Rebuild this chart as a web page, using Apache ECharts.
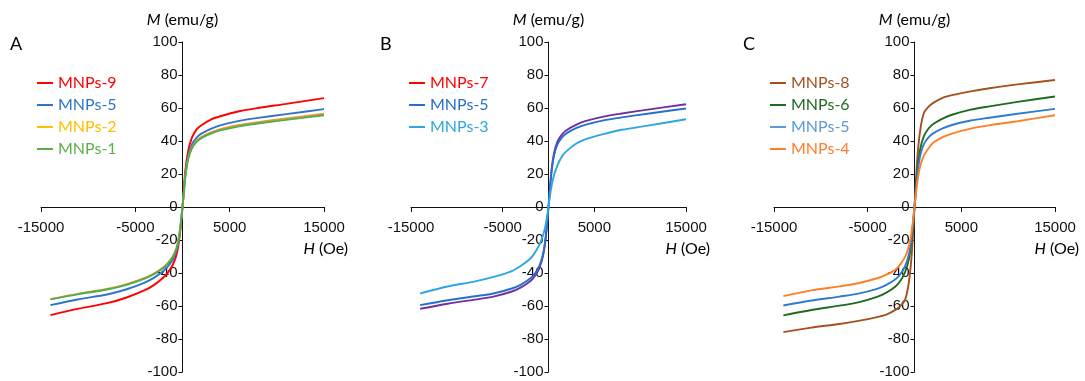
<!DOCTYPE html>
<html>
<head>
<meta charset="utf-8">
<script src="https://cdn.jsdelivr.net/npm/echarts@6/dist/echarts.min.js"></script>
<style>
  html, body { margin: 0; background: #fff; }
  #chart { width: 1085px; height: 381px; }
</style>
</head>
<body>
<div id="chart"></div>
<script>
// applied field H (Oe), shared by every curve
const fieldOe = [-14000, -11000, -8000, -6000, -4000, -3000, -2000, -1500, -1000, -600, -300, 0,
  300, 600, 1000, 1500, 2000, 3000, 4000, 6000, 8000, 11000, 15000];

// panel A, M (emu/g)
const mnps9 = [-65.5, -61.6, -58.3, -55, -50.4, -47.2, -42.6, -39.3, -34.7, -28.2, -17.7, 0, 22, 34, 42, 47, 49.5, 53, 55, 58, 60, 62.5, 66];
const mnps5A = [-59.5, -55.9, -53, -50, -45.8, -42.8, -38.7, -35.7, -31.5, -25.6, -16.1, 0, 19.6, 30.8, 38, 42.1, 44.5, 47.4, 49.5, 52.2, 54, 56.3, 59.3];
const mnps2 = [-55.8, -52.5, -49.7, -46.9, -43, -40.2, -36.3, -33.5, -29.6, -24, -15.1, 0, 18.6, 29.4, 36.2, 40.1, 42.4, 45.2, 47.2, 49.7, 51.4, 53.7, 56.5];
const mnps1 = [-56, -52.8, -50, -47.3, -43.4, -40.6, -36.8, -34, -30, -24.5, -15.5, 0, 18.3, 28.9, 35.6, 39.5, 41.7, 44.5, 46.4, 48.9, 50.6, 52.8, 55.6];

// panel B
const mnps7 = [-61.7, -58.6, -56.1, -54.3, -51.2, -48.7, -45, -42, -37, -29.6, -18.5, 0, 20.6, 32.4, 39.9, 44.2, 46.7, 49.8, 52, 54.8, 56.7, 59.2, 62.3];
const mnps5B = [-59.5, -56.5, -54.1, -52.4, -49.4, -47, -43.4, -40.5, -35.7, -28.6, -17.9, 0, 19.7, 31, 38.2, 42.4, 44.8, 47.8, 49.8, 52.5, 54.3, 56.7, 59.7];
const mnps3 = [-52.4, -48.2, -45.1, -42.4, -38.8, -35.6, -31.4, -27.8, -23, -17.3, -10.5, 0, 11.7, 19.2, 25.5, 30.9, 34, 38.3, 41, 44.2, 46.8, 49.5, 53.2];

// panel C
const mnps8 = [-75.8, -73.1, -70.9, -69, -66.7, -65.2, -62.2, -59.9, -56.1, -45.5, -28.8, 0, 29.3, 46.2, 57, 60.8, 63.1, 66.2, 67.8, 70.1, 72, 74.3, 77];
const mnps6 = [-65.7, -62.4, -59.8, -57.8, -54.5, -51.9, -48, -44.7, -39.4, -31.5, -19.7, 0, 22.1, 34.8, 42.9, 47.6, 50.3, 53.6, 55.9, 59, 61, 63.7, 67];
const mnps5C = [-59.7, -56.7, -54.3, -52.5, -49.6, -47.2, -43.6, -40.6, -35.8, -28.7, -17.9, 0, 19.6, 30.9, 38.1, 42.2, 44.6, 47.6, 49.7, 52.4, 54.1, 56.5, 59.5];
const mnps4 = [-54, -50.5, -48.1, -46.2, -43.2, -41, -37.8, -34.6, -30.2, -23.8, -14.6, 0, 15, 24.5, 31.1, 35.6, 38.9, 42.3, 44.5, 47.5, 49.5, 52, 55.6];

const xTicks = { min: -15000, max: 15000, step: 10000 };
const yTicks = { min: -100, max: 100, step: 20 };

// [label, values, line colour, legend colour]
const panels = [
  {
    letter: 'A', left: 41, width: 283, legendLeft: 37,
    curves: [
      ['MNPs-9', mnps9, '#FF0000', '#FF0000'],
      ['MNPs-5', mnps5A, '#2E75C9', '#2E75C9'],
      ['MNPs-2', mnps2, '#F0922E', '#FFC000'],
      ['MNPs-1', mnps1, '#4CAF50', '#5BB04A'],
    ],
  },
  {
    letter: 'B', left: 411, width: 275, legendLeft: 409,
    curves: [
      ['MNPs-7', mnps7, '#7030A0', '#FF0000'],
      ['MNPs-5', mnps5B, '#2670CC', '#2670CC'],
      ['MNPs-3', mnps3, '#2EA6E0', '#2EA6E0'],
    ],
  },
  {
    letter: 'C', left: 774, width: 281, legendLeft: 770,
    curves: [
      ['MNPs-8', mnps8, '#A5501E', '#A5501E'],
      ['MNPs-6', mnps6, '#1F6B21', '#1F6B21'],
      ['MNPs-5', mnps5C, '#2E7BD0', '#5B9BD5'],
      ['MNPs-4', mnps4, '#FF7F27', '#FF7F27'],
    ],
  },
];

const tickFont = 'Liberation Sans, Arial, sans-serif';
const textFont = 'Lato, Liberation Sans, sans-serif';
const plotTop = 42, plotHeight = 330;

const grid = [], xAxis = [], yAxis = [], series = [], legend = [], graphic = [];

panels.forEach((p, gi) => {
  grid.push({ left: p.left, width: p.width, top: plotTop, height: plotHeight, containLabel: false, outerBoundsMode: 'none' });
  // axes cross at the origin: shift them from the grid edge to the centre
  xAxis.push({
    type: 'value', gridIndex: gi, position: 'bottom', offset: -plotHeight / 2,
    min: xTicks.min, max: xTicks.max, interval: xTicks.step,
    splitLine: { show: false },
    axisLine: { onZero: false, lineStyle: { color: '#111', width: 1 } },
    axisTick: { show: true, length: 5, lineStyle: { color: '#111' } },
    axisLabel: {
      margin: 13, color: '#111', fontSize: 15, fontFamily: tickFont,
      showMinLabel: true, showMaxLabel: true, formatter: (v) => String(v),
    },
  });
  yAxis.push({
    type: 'value', gridIndex: gi, position: 'left', offset: -p.width / 2,
    min: yTicks.min, max: yTicks.max, interval: yTicks.step,
    splitLine: { show: false },
    axisLine: { show: true, onZero: false, lineStyle: { color: '#111', width: 1 } },
    axisTick: { show: true, length: 4, lineStyle: { color: '#111' } },
    axisLabel: { margin: 5, color: '#111', fontSize: 15, fontFamily: tickFont, formatter: (v) => String(v) },
  });

  const legendData = [];
  p.curves.forEach(([label, vals, lineColor, keyColor]) => {
    const name = p.letter + ' ' + label;
    series.push({
      name, type: 'line', xAxisIndex: gi, yAxisIndex: gi,
      data: fieldOe.map((h, i) => [h, vals[i]]),
      showSymbol: false, symbol: 'none',
      smooth: 0.3,
      lineStyle: { color: lineColor, width: 1.9 },
      itemStyle: { color: lineColor },
    });
    legendData.push({
      name,
      itemStyle: { color: keyColor },
      textStyle: { color: keyColor },
    });
  });
  legend.push({
    orient: 'vertical', left: p.legendLeft, top: 72, padding: 0,
    icon: 'rect', itemWidth: 16, itemHeight: 2, itemGap: 0,
    textStyle: { fontSize: 16, fontFamily: textFont, lineHeight: 22 },
    formatter: (n) => n.slice(2),
    selectedMode: false,
    data: legendData,
  });

  const axisX = p.left + p.width / 2;
  graphic.push({
    type: 'text', left: p.left - 31, top: 35,
    style: { text: p.letter, font: '18px ' + textFont, fill: '#000' },
  });
  graphic.push({
    type: 'text', x: axisX, y: 20,
    style: {
      text: '{i|M} (emu/g)', font: '16px ' + textFont, fill: '#000',
      textAlign: 'center', textVerticalAlign: 'middle',
      rich: { i: { fontStyle: 'italic', fontSize: 16, fontFamily: textFont } },
    },
  });
  graphic.push({
    type: 'text', x: p.left + p.width + 24, y: 249,
    style: {
      text: '{i|H} (Oe)', font: '16px ' + textFont, fill: '#000',
      textAlign: 'right', textVerticalAlign: 'middle',
      rich: { i: { fontStyle: 'italic', fontSize: 16, fontFamily: textFont } },
    },
  });
});

const chart = echarts.init(document.getElementById('chart'), null, { renderer: 'canvas' });
chart.setOption({
  animation: false,
  backgroundColor: '#fff',
  grid, xAxis, yAxis, series, legend, graphic,
});
</script>
</body>
</html>
